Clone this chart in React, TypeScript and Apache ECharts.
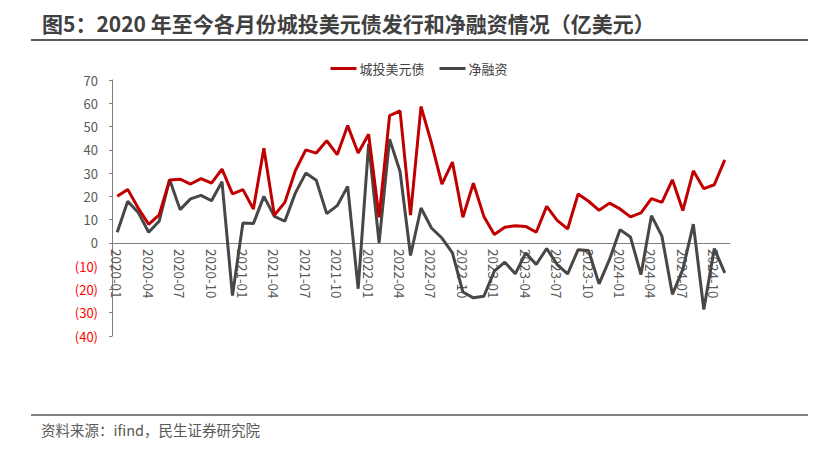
import React, { useEffect, useRef } from "react";
import * as echarts from "echarts";

const titleText = "图5：2020 年至今各月份城投美元债发行和净融资情况（亿美元）";
const sourceText = "资料来源：ifind，民生证券研究院";
const seriesNames = ["城投美元债", "净融资"];

const months: string[] = [];
for (let y = 2020; y <= 2024; y++) {
  for (let m = 1; m <= 12; m++) {
    if (y === 2024 && m > 11) break;
    months.push(`${y}-${String(m).padStart(2, "0")}`);
  }
}

const issuance = [
  20, 23, 15, 8, 12, 27, 27.4, 25.3, 27.6, 25.7, 31.7, 21.1,
  22.9, 14.6, 40.7, 11.9, 17.4, 31, 40, 38.6, 43.9, 37.9, 50.4, 38.6,
  46.7, 11, 54.7, 56.7, 11.9, 58.6, 42.9, 25.3, 34.7, 11, 25.7, 11.4,
  3.6, 6.7, 7.4, 7.1, 4.6, 15.7, 9.7, 6, 21, 17.9, 14, 17.1,
  14.6, 11.2, 12.9, 19, 17.4, 27.1, 13.9, 31, 23.3, 25, 35.7,
];

const netFinancing = [
  4.6, 17.9, 13.1, 4.6, 9.3, 27.2, 14.3, 18.9, 20.4, 18.1, 26.3, -22.6,
  8.6, 8.3, 20, 11.4, 9.3, 21.4, 30, 26.9, 12.6, 16, 24.3, -19.7,
  42.6, 0, 44.6, 30.7, -5.4, 15, 6.4, 2.1, -4.3, -21.1, -23.6, -22.9,
  -12.1, -8.3, -13.3, -4.3, -9.3, -2.4, -9.3, -13.3, -2.9, -3.3, -17.6, -7.1,
  5.7, 2.5, -13.6, 11.7, 2.9, -22.1, -11.4, 8.1, -28.6, -2.4, -12.9,
];

const FONT = '"Noto Sans CJK SC", "Microsoft YaHei", sans-serif';
const Y_MIN = -40;
const Y_MAX = 70;
const GRID_TOP = 80;
const GRID_BOTTOM = 119;
const CHART_H = 455;

export default function App() {
  const ref = useRef<HTMLDivElement>(null);
  useEffect(() => {
    if (!ref.current) return;
    const chart = echarts.init(ref.current, undefined, { renderer: "svg" });
    const plotH = CHART_H - GRID_TOP - GRID_BOTTOM;
    const zeroShift = (plotH * (0 - Y_MIN)) / (Y_MAX - Y_MIN);
    chart.setOption({
      animation: false,
      backgroundColor: "#ffffff",
      textStyle: { fontFamily: FONT },
      title: {
        text: titleText,
        left: 37,
        top: 7,
        textStyle: { fontSize: 21, fontWeight: "bold", color: "#404040", fontFamily: FONT },
      },
      graphic: [
        { type: "line", shape: { x1: 31, y1: 40, x2: 808, y2: 40 }, style: { stroke: "#595959", lineWidth: 2 } },
        { type: "line", shape: { x1: 31, y1: 415, x2: 808, y2: 415 }, style: { stroke: "#595959", lineWidth: 1.5 } },
        {
          type: "text",
          left: 41,
          top: 422,
          style: { text: sourceText, fontSize: 14.5, fill: "#595959", fontFamily: FONT },
        },
      ],
      legend: {
        data: seriesNames,
        left: "center",
        top: 57,
        itemWidth: 26,
        itemHeight: 3,
        itemGap: 15,
        icon: "rect",
        textStyle: { fontSize: 13, color: "#404040", fontFamily: FONT, padding: [0, 0, 0, -2] },
      },
      grid: { left: 112, right: 108, top: GRID_TOP, bottom: GRID_BOTTOM, containLabel: false },
      xAxis: {
        type: "category",
        data: months,
        boundaryGap: true,
        offset: -zeroShift,
        z: 0,
        axisLine: { onZero: false, lineStyle: { color: "#808080", width: 1 } },
        axisTick: { interval: 2, length: 4, lineStyle: { color: "#808080" } },
        axisLabel: {
          interval: 2,
          rotate: -90,
          margin: 6,
          fontSize: 13.5,
          color: "#595959",
          fontFamily: FONT,
        },
        splitLine: { show: false },
      },
      yAxis: {
        type: "value",
        min: Y_MIN,
        max: Y_MAX,
        interval: 10,
        axisLine: { show: true, lineStyle: { color: "#808080", width: 1 } },
        axisTick: { show: true, length: 3, lineStyle: { color: "#808080" } },
        splitLine: { show: false },
        axisLabel: {
          fontSize: 13,
          margin: 14,
          fontFamily: FONT,
          formatter: (v: number) => (v < 0 ? `(${-v})` : `${v}`),
          color: (v: any) => (Number(v) < 0 ? "#ff0000" : "#595959"),
        },
      },
      series: [
        {
          name: seriesNames[0],
          type: "line",
          data: issuance,
          showSymbol: false,
          symbol: "none",
          z: 3,
          lineStyle: { color: "#C00000", width: 3 },
          itemStyle: { color: "#C00000" },
        },
        {
          name: seriesNames[1],
          type: "line",
          data: netFinancing,
          showSymbol: false,
          symbol: "none",
          z: 2,
          lineStyle: { color: "#474747", width: 3 },
          itemStyle: { color: "#474747" },
        },
      ],
    });
    return () => chart.dispose();
  }, []);
  return <div ref={ref} style={{ width: 838, height: 455, position: "absolute", left: 0, top: 0 }} />;
}
